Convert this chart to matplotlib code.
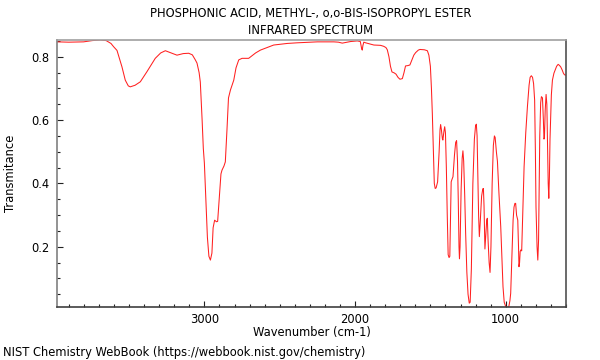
import matplotlib
matplotlib.use("Agg")
import matplotlib.pyplot as plt
from matplotlib.ticker import MultipleLocator

title_lines = ["PHOSPHONIC ACID, METHYL-, o,o-BIS-ISOPROPYL ESTER", "INFRARED SPECTRUM"]
x_label = "Wavenumber (cm-1)"
y_label = "Transmitance"
footer = "NIST Chemistry WebBook (https://webbook.nist.gov/chemistry)"

wavenumber = [
    3974, 3900, 3802, 3744, 3691, 3652, 3620, 3603, 3580, 3547, 3525, 3505, 3492, 3460, 3425,
    3381, 3326, 3290, 3259, 3220, 3182, 3140, 3104, 3080, 3060, 3049, 3035, 3027, 3015, 3007,
    3000, 2990, 2980, 2970, 2960, 2950, 2942, 2932, 2920, 2912, 2900, 2890, 2883, 2870, 2861,
    2850, 2840, 2827, 2805, 2790, 2772, 2750, 2706, 2660, 2628, 2540, 2450, 2384, 2250, 2141,
    2110, 2085, 2030, 1985, 1965, 1956, 1952, 1948, 1942, 1930, 1875, 1831, 1810, 1795, 1786,
    1775, 1765, 1755, 1740, 1728, 1715, 1702, 1686, 1675, 1665, 1650, 1636, 1610, 1598, 1580,
    1569, 1540, 1520, 1510, 1500, 1493, 1487, 1480, 1474, 1468, 1462, 1452, 1442, 1436, 1432,
    1427, 1420, 1417, 1410, 1405, 1400, 1394, 1388, 1382, 1376, 1371, 1366, 1362, 1355, 1350,
    1340, 1332, 1326, 1320, 1315, 1310, 1307, 1303, 1296, 1289, 1284, 1279, 1272, 1266, 1258,
    1250, 1242, 1236, 1228, 1218, 1208, 1200, 1195, 1190, 1185, 1180, 1175, 1170, 1160, 1152,
    1148, 1144, 1138, 1133, 1126, 1122, 1117, 1110, 1104, 1098, 1090, 1082, 1075, 1070, 1062,
    1055, 1045, 1033, 1025, 1018, 1010, 1000, 990, 980, 972, 967, 958, 951, 945, 939,
    934, 928, 920, 915, 912, 908, 904, 900, 894, 886, 878, 867, 856, 845, 838,
    830, 822, 815, 808, 803, 799, 792, 787, 782, 778, 774, 768, 763, 756, 750,
    746, 743, 738, 732, 727, 723, 718, 714, 710, 706, 703, 697, 690, 680, 672,
    662, 652, 644, 635, 625, 617, 610, 601,
]
transmittance = [
    0.847, 0.846, 0.847, 0.851, 0.853, 0.851, 0.842, 0.832, 0.820, 0.768, 0.726, 0.708, 0.705, 0.710, 0.721,
    0.753, 0.795, 0.812, 0.819, 0.812, 0.805, 0.810, 0.811, 0.806, 0.790, 0.780, 0.750, 0.720, 0.600, 0.510,
    0.464, 0.350, 0.230, 0.170, 0.158, 0.180, 0.260, 0.284, 0.279, 0.280, 0.360, 0.430, 0.442, 0.455, 0.468,
    0.570, 0.670, 0.695, 0.726, 0.765, 0.790, 0.795, 0.795, 0.812, 0.821, 0.837, 0.842, 0.844, 0.847, 0.847,
    0.846, 0.843, 0.848, 0.850, 0.848, 0.825, 0.821, 0.835, 0.846, 0.844, 0.837, 0.836, 0.833, 0.829, 0.822,
    0.800, 0.770, 0.752, 0.749, 0.745, 0.735, 0.729, 0.731, 0.750, 0.771, 0.772, 0.774, 0.805, 0.813, 0.821,
    0.823, 0.822, 0.819, 0.805, 0.770, 0.700, 0.620, 0.500, 0.400, 0.384, 0.386, 0.405, 0.500, 0.570, 0.586,
    0.570, 0.540, 0.537, 0.565, 0.579, 0.560, 0.450, 0.300, 0.175, 0.166, 0.170, 0.300, 0.405, 0.415, 0.421,
    0.490, 0.530, 0.535, 0.470, 0.350, 0.200, 0.162, 0.200, 0.380, 0.480, 0.503, 0.470, 0.360, 0.243, 0.120,
    0.050, 0.022, 0.025, 0.130, 0.400, 0.540, 0.583, 0.587, 0.550, 0.420, 0.300, 0.232, 0.270, 0.360, 0.383,
    0.384, 0.330, 0.193, 0.230, 0.285, 0.290, 0.220, 0.150, 0.119, 0.200, 0.400, 0.520, 0.550, 0.545, 0.500,
    0.470, 0.370, 0.263, 0.160, 0.074, 0.025, 0.011, 0.008, 0.010, 0.030, 0.053, 0.180, 0.284, 0.325, 0.337,
    0.337, 0.300, 0.284, 0.200, 0.137, 0.150, 0.185, 0.190, 0.187, 0.320, 0.453, 0.560, 0.642, 0.710, 0.735,
    0.740, 0.735, 0.715, 0.663, 0.500, 0.326, 0.200, 0.158, 0.220, 0.400, 0.550, 0.655, 0.674, 0.670, 0.600,
    0.540, 0.545, 0.630, 0.681, 0.650, 0.537, 0.400, 0.353, 0.420, 0.540, 0.590, 0.680, 0.726, 0.748, 0.758,
    0.770, 0.776, 0.773, 0.768, 0.758, 0.748, 0.743, 0.742,
]

x_ticks = [3000, 2000, 1000]
y_ticks = [0.2, 0.4, 0.6, 0.8]

fs = 8.3

fig = plt.figure(figsize=(6, 3.6), dpi=100)
ax = fig.add_axes([0.0958, 0.147, 0.8475, 0.742])
ax.plot(wavenumber, transmittance, color="#ff2020", lw=0.75)
ax.set_xlim(3975, 600)
ax.set_ylim(0.0096, 0.853)

ax.set_xticks(x_ticks)
ax.set_xticklabels([str(v) for v in x_ticks])
ax.set_yticks(y_ticks)
ax.set_yticklabels([f"{v:.1f}" for v in y_ticks])
ax.xaxis.set_minor_locator(MultipleLocator(100))
ax.yaxis.set_minor_locator(MultipleLocator(0.05))
ax.tick_params(which="both", direction="in", labelsize=fs, colors="#222222", width=0.8)
ax.tick_params(which="major", length=4, pad=6)
ax.tick_params(axis="x", which="major", pad=4.5)
ax.tick_params(which="minor", length=2)
ax.tick_params(axis="both", which="both", labelcolor="black")

ax.spines["top"].set_color("#a0a0a0")
ax.spines["right"].set_color("#505050")
ax.spines["left"].set_color("#808080")
ax.spines["bottom"].set_color("#404040")
for s in ax.spines.values():
    s.set_linewidth(1.2)

ax.set_xlabel(x_label, fontsize=fs, labelpad=0)
ax.set_ylabel(y_label, fontsize=fs, labelpad=10)

fig.text(0.518, 0.963, title_lines[0], ha="center", va="center", fontsize=fs)
fig.text(0.518, 0.916, title_lines[1], ha="center", va="center", fontsize=fs)
fig.text(0.005, 0.022, footer, ha="left", va="center", fontsize=fs)

fig.savefig("out.png", dpi=100)
